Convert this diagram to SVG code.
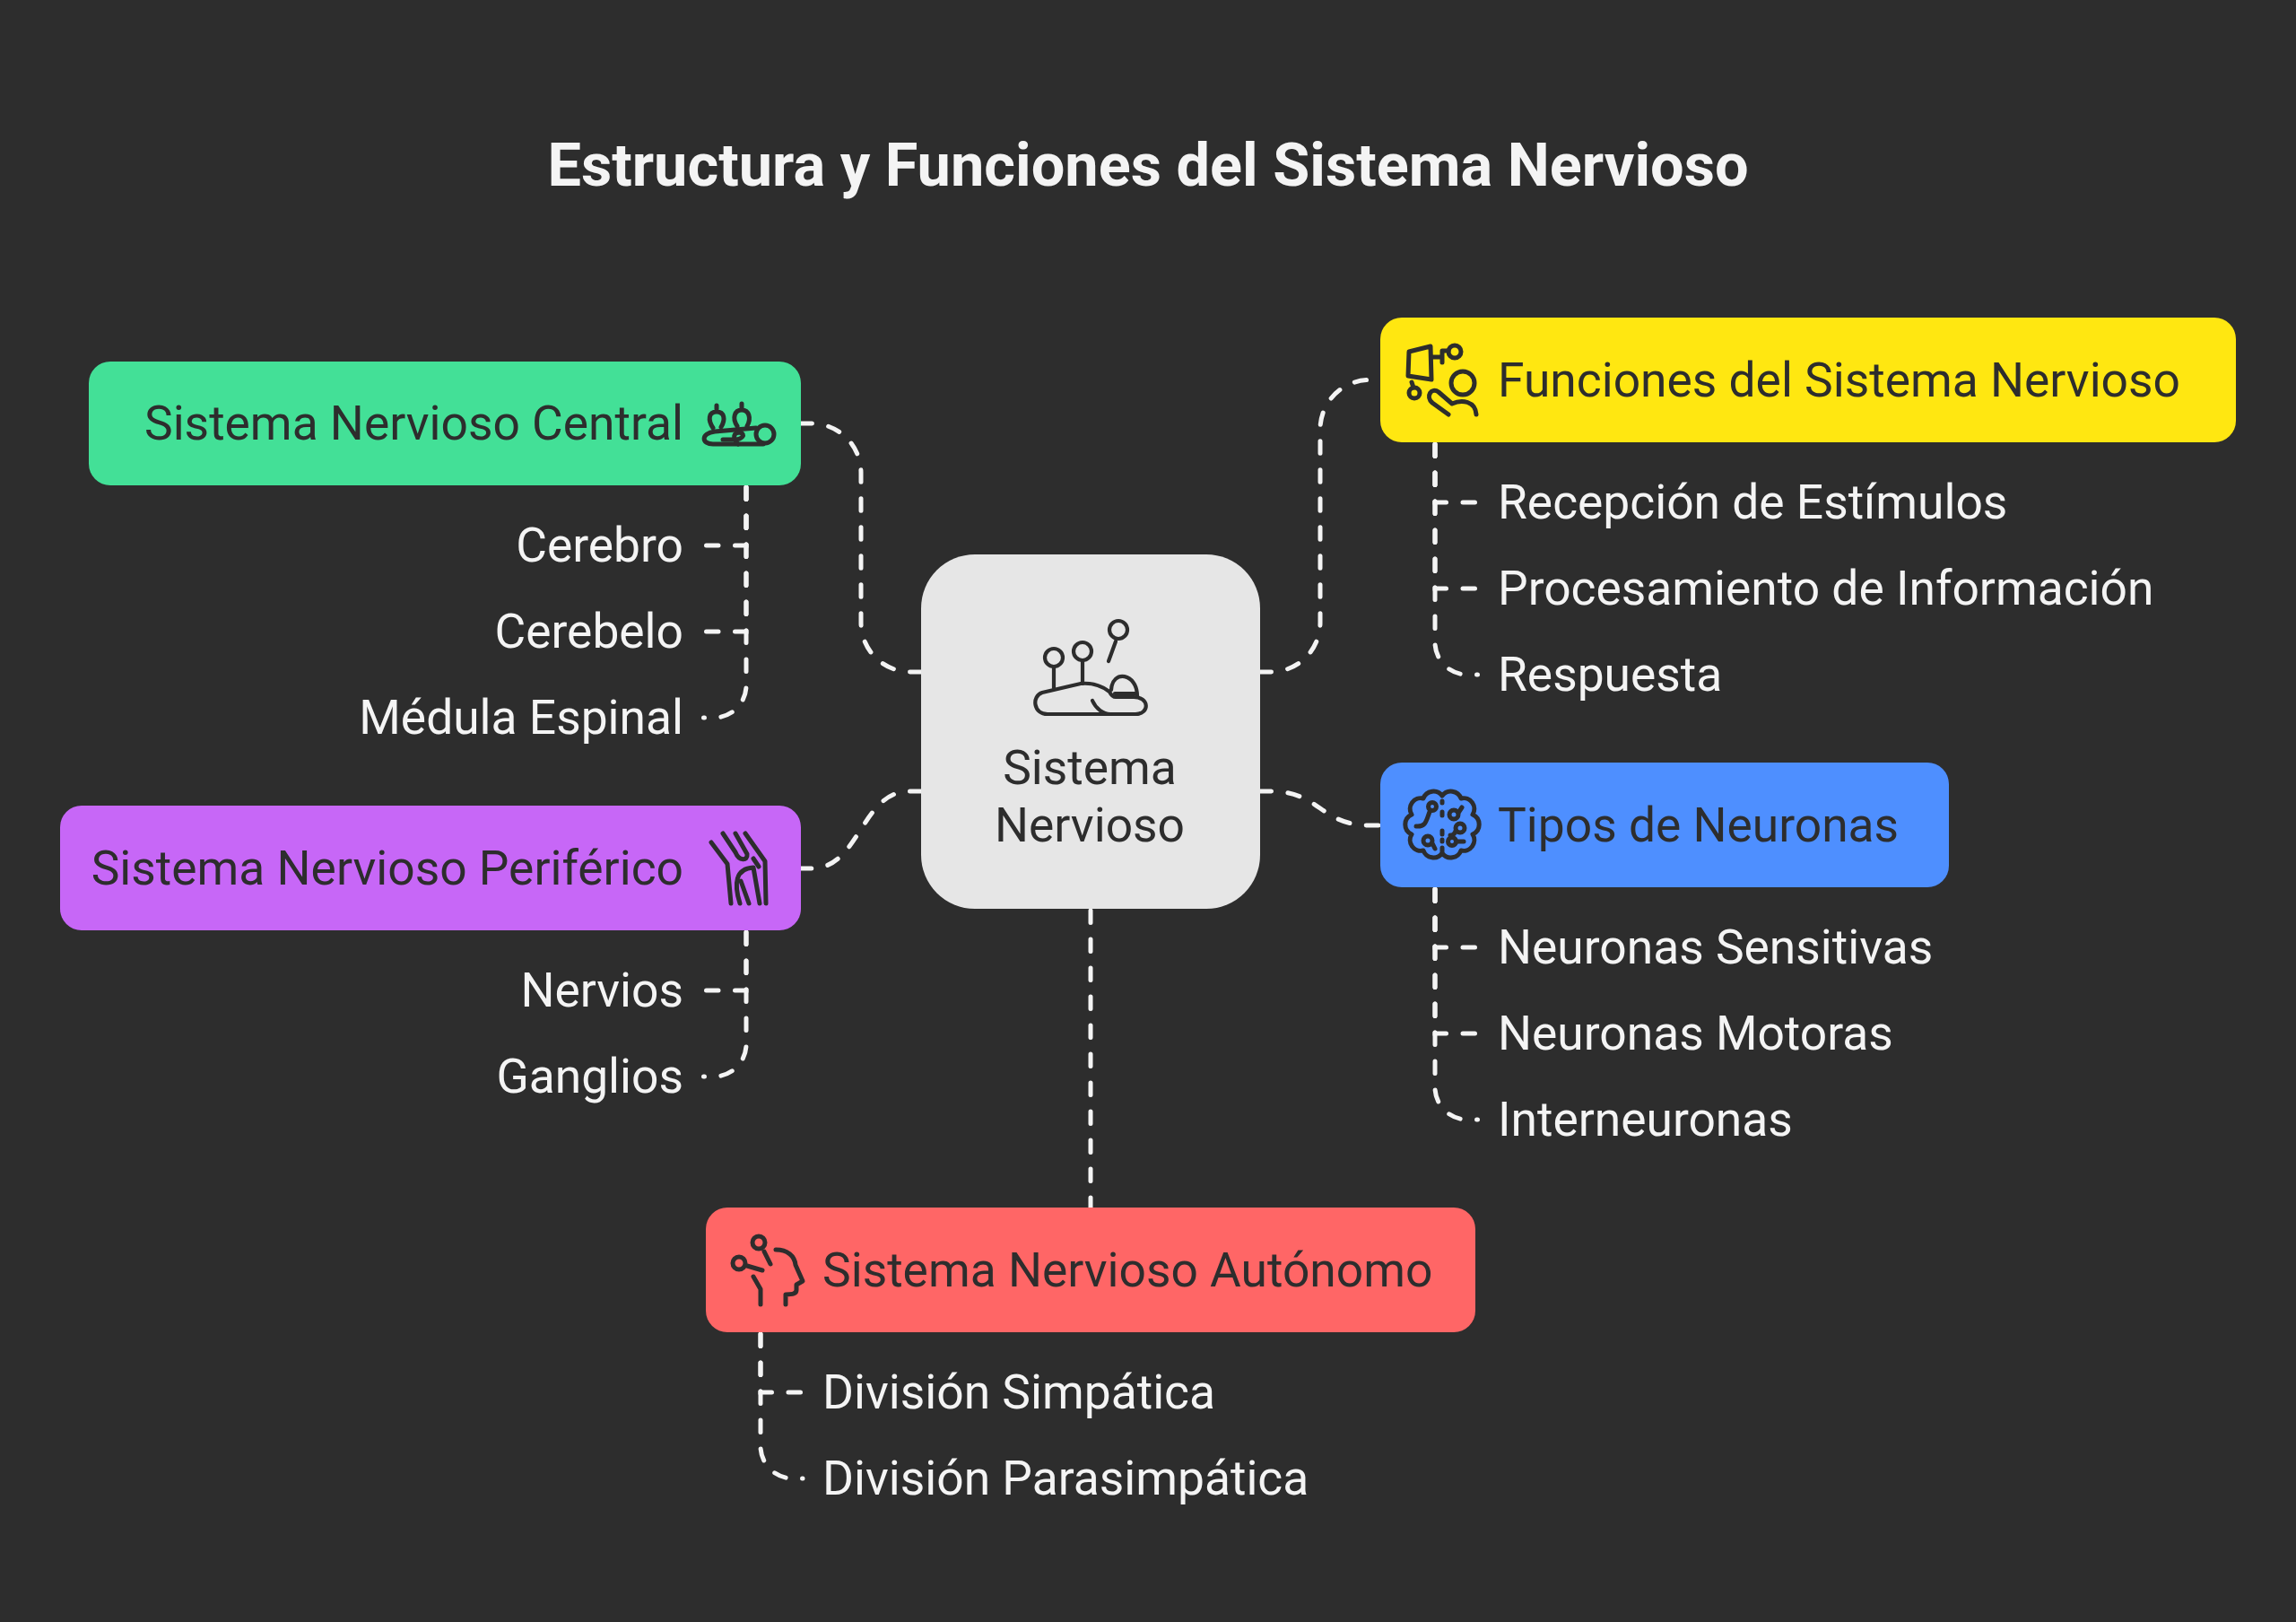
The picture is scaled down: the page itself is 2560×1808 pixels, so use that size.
<svg xmlns="http://www.w3.org/2000/svg" width="2560" height="1808" viewBox="0 0 2560 1808">
<style>
text{font-family:Roboto,"Liberation Sans",sans-serif;font-size:53.33px}
.t{fill:#2d2d2d}.l{fill:#f4f4f4}.e{text-anchor:end}.m{text-anchor:middle}
.title{font-size:66.67px;font-weight:700;fill:#f4f4f4;text-anchor:middle}
.c path{fill:none;stroke:#f4f4f4;stroke-width:5;stroke-linecap:round;stroke-dasharray:13.5 18.5}
.i{fill:none;stroke:#2d2d2d;stroke-width:5;stroke-linecap:round;stroke-linejoin:round}
</style>
<rect width="2560" height="1808" fill="#2d2d2d"/>
<text class="title" x="1280" y="207">Estructura y Funciones del Sistema Nervioso</text>
<g id="connectors" class="c">
<path d="M1028 749H1015A55 55 0 0 1 960 694V527A55 55 0 0 0 905 472H893"/>
<path d="M1028 882H1014C960 882 959 968 905 968H893"/>
<path d="M1404 749H1417A55 55 0 0 0 1472 694V478.500A55 55 0 0 1 1527 423.500H1539"/>
<path d="M1404 882H1417C1472 882 1472 920 1527 920H1539"/>
<path d="M1216 1015V1346"/>
<path d="M1600 495V560H1645"/><path d="M1600 495V656H1645"/><path d="M1600 495V716A36 36 0 0 0 1636 752H1647.500"/>
<path d="M1600 991V1056H1645"/><path d="M1600 991V1152H1645"/><path d="M1600 991V1212A36 36 0 0 0 1636 1248H1647.500"/>
<path d="M832 543V608H787"/><path d="M832 543V704H787"/><path d="M832 543V764A36 36 0 0 1 796 800H784.500"/>
<path d="M832 1039V1104H787"/><path d="M832 1039V1164A36 36 0 0 1 796 1200H784.500"/>
<path d="M848 1487V1552H893"/><path d="M848 1487V1612A36 36 0 0 0 884 1648H895"/>
</g>
<g id="center">
<rect x="1027" y="618" width="378" height="395" rx="60" fill="#e6e6e6"/>
<g class="i" style="stroke-width:4.200"><circle cx="1175" cy="733" r="10"/><path d="M1175 743V767"/><circle cx="1207" cy="726" r="10"/><path d="M1207 736V762"/><circle cx="1247" cy="702" r="10"/><path d="M1244 715L1236 737"/>
<path d="M1237 771C1225 762 1215 761 1205 762L1162 772C1150 776 1152 796 1168 796H1266C1282 796 1282 777 1264 777H1244C1240 777 1238 773 1237 771Z"/><path d="M1218 781C1222 790 1230 796 1238 796"/><path d="M1239 769C1240 746 1268 750 1268 776M1243 773H1266"/></g>
<text class="t m" x="1215" y="874">Sistema</text><text class="t m" x="1215" y="938">Nervioso</text>
</g>
<g id="n-central">
<rect x="99" y="403" width="794" height="138" rx="24" fill="#43e097"/>
<text class="t e" x="762" y="490">Sistema Nervioso Central</text>
<g class="i"><circle cx="853" cy="484" r="10"/><path d="M843 477L797 481C781 483 782 495 795 495H851"/><path d="M799 452V456M795 477C789 468 790 459 799 459C808 459 809 468 804 476M827 450V455M822 475C816 466 819 457 827 457C835 457 838 466 833 475"/><path d="M806 490H818C828 490 832 484 825 482C818 482 816 488 823 495"/></g>
</g>
<g id="n-periferico">
<rect x="67" y="898" width="826" height="139" rx="24" fill="#c767f7"/>
<text class="t e" x="762" y="986">Sistema Nervioso Periférico</text>
<g class="i"><path d="M793 939L811 963L815 1007"/><path d="M806 929L820 950C824 960 834 960 833 952L820 929"/><path d="M831 929L853 960L854 1007"/><path d="M840 957L846 966"/><path d="M825 1007C818 985 820 968 840 967L847 1007"/><path d="M835 1007L826 982"/></g>
</g>
<g id="n-autonomo">
<rect x="787" y="1346" width="858" height="139" rx="24" fill="#ff6666"/>
<text class="t" x="917" y="1434">Sistema Nervioso Autónomo</text>
<g class="i"><circle cx="846" cy="1385" r="7"/><path d="M852 1395L859 1409"/><circle cx="824" cy="1408" r="7"/><path d="M833 1411L850 1416"/><path d="M865 1393C878 1393 886 1400 887 1410L895 1428L888 1432V1438C888 1442 884 1443 876 1443V1454"/><path d="M840 1423L848 1437V1454"/></g>
</g>
<g id="n-funciones">
<rect x="1539" y="354" width="954" height="139" rx="24" fill="#ffe711"/>
<text class="t" x="1670" y="442">Funciones del Sistema Nervioso</text>
<g class="i"><path d="M1571 392L1595 386L1596 423L1570 419Z"/><circle cx="1622" cy="392" r="7"/><path d="M1615 391H1608V404M1597 398H1608"/><circle cx="1577" cy="438" r="6"/><path d="M1574 426L1576 432"/><circle cx="1631" cy="427" r="13"/><path d="M1615 462L1597 449C1589 442 1596 431 1604 437L1619 450C1630 445 1645 447 1646 462"/></g>
</g>
<g id="n-tipos">
<rect x="1539" y="850" width="634" height="139" rx="24" fill="#4e8fff"/>
<text class="t" x="1670" y="938">Tipos de Neuronas</text>
<g class="i"><path d="M1608 887A12 12 0 0 1 1629 890A12 12 0 0 1 1642 908A12 12 0 0 1 1642 930A12 12 0 0 1 1629 948A12 12 0 0 1 1608 951A12 12 0 0 1 1587 948A12 12 0 0 1 1574 930A12 12 0 0 1 1574 908A12 12 0 0 1 1587 890A12 12 0 0 1 1608 887Z"/><path d="M1608 893V895M1608 905V909M1608 926V930M1608 936V938M1608 945V949"/><circle cx="1597" cy="899" r="4.500"/><path d="M1594 905C1590 915 1590 922 1579 921"/><circle cx="1621" cy="908" r="5"/><path d="M1626 906L1630 900"/><circle cx="1628" cy="923" r="5"/><path d="M1623 926C1622 930 1619 931 1617 931"/><circle cx="1592" cy="937" r="5"/><path d="M1597 940L1600 946"/><circle cx="1619" cy="938" r="4.500"/><path d="M1624 938H1632"/></g>
</g>
<text class="l e" x="762" y="626">Cerebro</text>
<text class="l e" x="762" y="722">Cerebelo</text>
<text class="l e" x="762" y="818">Médula Espinal</text>
<text class="l e" x="762" y="1122">Nervios</text>
<text class="l e" x="762" y="1218">Ganglios</text>
<text class="l" x="1670" y="578">Recepción de Estímulos</text>
<text class="l" x="1670" y="674">Procesamiento de Información</text>
<text class="l" x="1670" y="770">Respuesta</text>
<text class="l" x="1670" y="1074">Neuronas Sensitivas</text>
<text class="l" x="1670" y="1170">Neuronas Motoras</text>
<text class="l" x="1670" y="1266">Interneuronas</text>
<text class="l" x="917" y="1570">División Simpática</text>
<text class="l" x="917" y="1666">División Parasimpática</text>
</svg>
